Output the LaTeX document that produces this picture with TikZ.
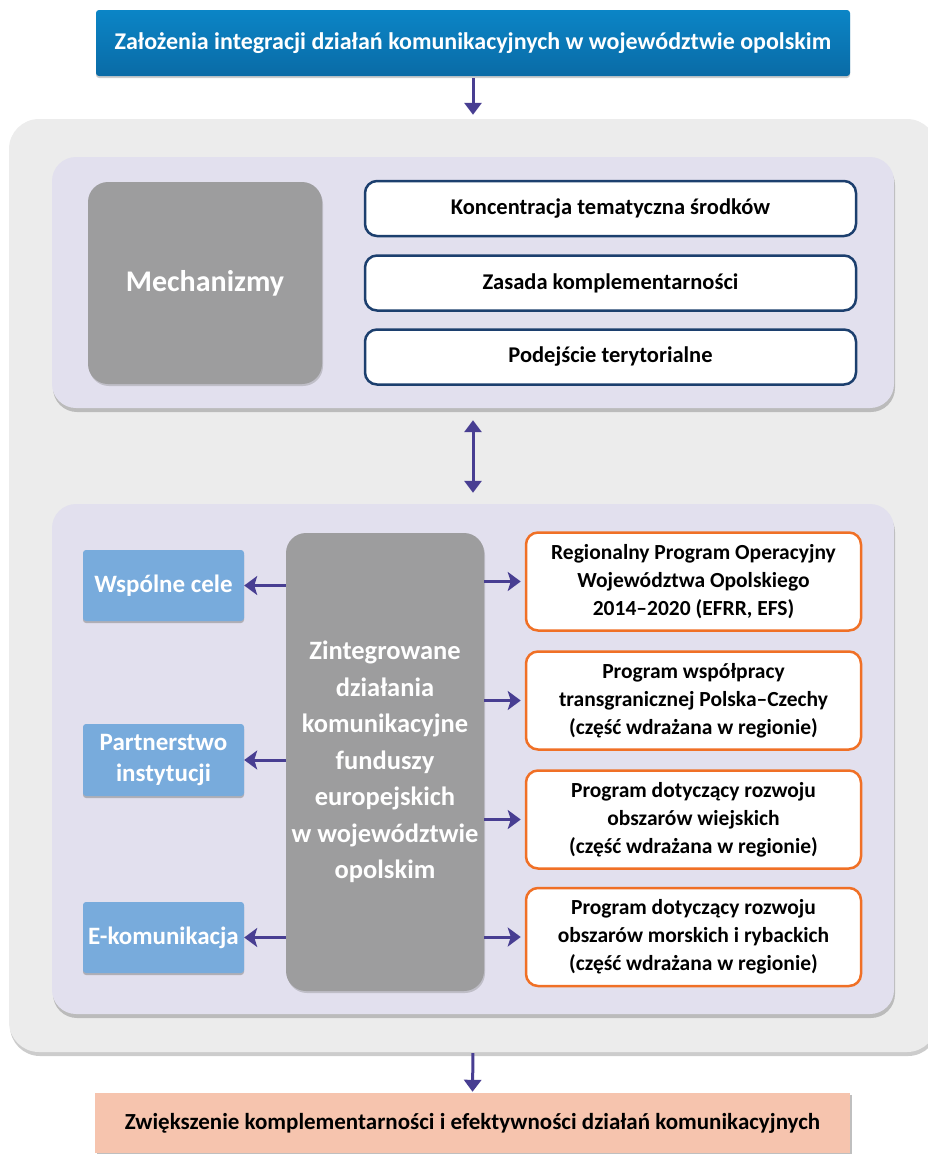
\documentclass[tikz,border=0pt]{standalone}
\usepackage{fontspec}
\setmainfont{Carlito}
\usetikzlibrary{arrows.meta,shadows}
\definecolor{niebieski}{HTML}{0B85C6}
\definecolor{ciemnyniebieski}{HTML}{0A6BA6}
\definecolor{jasnoniebieski}{HTML}{78ABDC}
\definecolor{szary}{HTML}{9D9D9E}
\definecolor{tlo}{HTML}{ECECEC}
\definecolor{lawenda}{HTML}{E2E0EE}
\definecolor{granat}{HTML}{1C3F6E}
\definecolor{pomarancz}{HTML}{F07026}
\definecolor{strzalka}{HTML}{483E92}
\definecolor{losos}{HTML}{F6C4AE}

\begin{document}
\begin{tikzpicture}[x=1pt, y=-1pt,
    font=\bfseries,
    panel/.style={rounded corners=24pt, fill=lawenda, drop shadow={shadow xshift=1pt, shadow yshift=-4pt, opacity=.45}},
    szare/.style={rounded corners=20pt, fill=szary, text=white, align=center, drop shadow={shadow xshift=1pt, shadow yshift=-2pt, opacity=.35}},
    biale/.style={rounded corners=12pt, fill=white, draw=granat, line width=2.5pt, minimum width=491pt, minimum height=55pt, font=\bfseries\fontsize{22.5}{26}\selectfont},
    pomar/.style={rounded corners=12pt, fill=white, draw=pomarancz, line width=2.5pt, minimum width=335pt, minimum height=98pt, align=center, font=\bfseries\fontsize{21.5}{28}\selectfont},
    cele/.style={rounded corners=3pt, fill=jasnoniebieski, text=white, minimum width=161pt, align=center, font=\bfseries\fontsize{25}{31}\selectfont, drop shadow={shadow xshift=0pt, shadow yshift=-2pt, opacity=.5}},
    arr/.style={draw=strzalka, line width=3pt, -{Triangle[length=12pt, width=17pt]}},
    arrh/.style={draw=strzalka, line width=3pt, -{Stealth[length=13pt, width=19pt, inset=3pt]}}
  ]
  \useasboundingbox (0,0) rectangle (927,1154);

  % tlo
  \node[rounded corners=30pt, fill=tlo, minimum width=928pt, minimum height=933pt,
        drop shadow={shadow xshift=1pt, shadow yshift=-4pt, opacity=.4}] (outer) at (473,585.5) {};

  % naglowek
  \node[top color=niebieski, bottom color=ciemnyniebieski, rounded corners=3pt, text=white,
        minimum width=754pt, minimum height=66pt, font=\bfseries\fontsize{24}{28}\selectfont,
        drop shadow={shadow xshift=0pt, shadow yshift=-2pt, opacity=.4}] (title) at (473,43)
        {Założenia integracji działań komunikacyjnych w województwie opolskim};

  % mechanizmy
  \node[panel, minimum width=842pt, minimum height=251pt] (upper) at (473,282.5) {};
  \node[szare, minimum width=234pt, minimum height=202pt, font=\bfseries\fontsize{30}{34}\selectfont] (mech) at (205,283) {Mechanizmy};
  \node[biale] (konc) at (610.5,208.5) {Koncentracja tematyczna środków};
  \node[biale] (kompl) at (610.5,283) {Zasada komplementarności};
  \node[biale] (teryt) at (610.5,357) {Podejście terytorialne};

  % dzialania
  \node[panel, minimum width=842pt, minimum height=510pt] (lower) at (473,759) {};
  \node[szare, minimum width=198pt, minimum height=458pt, font=\bfseries\fontsize{26.5}{36.5}\selectfont] (zint) at (385,762)
       {Zintegrowane\\działania\\komunikacyjne\\funduszy\\europejskich\\w województwie\\opolskim};

  \node[cele, minimum height=71pt] (wsp) at (163.5,585.5) {Wspólne cele};
  \node[cele, minimum height=72pt] (partn) at (163.5,760) {Partnerstwo\\instytucji};
  \node[cele, minimum height=71pt] (ekom) at (163.5,937.5) {E-komunikacja};

  \node[pomar] (rpo) at (693.5,581.5) {Regionalny Program Operacyjny\\Województwa Opolskiego\\2014–2020 (EFRR, EFS)};
  \node[pomar] (pwt) at (693.5,700.5) {Program współpracy\\transgranicznej Polska–Czechy\\(część wdrażana w regionie)};
  \node[pomar] (prow) at (693.5,819.5) {Program dotyczący rozwoju\\obszarów wiejskich\\(część wdrażana w regionie)};
  \node[pomar] (pmr) at (693.5,937) {Program dotyczący rozwoju\\obszarów morskich i rybackich\\(część wdrażana w regionie)};

  % wynik
  \node[fill=losos, minimum width=755pt, minimum height=60pt, font=\bfseries\fontsize{23}{26}\selectfont,
        drop shadow={shadow xshift=2pt, shadow yshift=-2pt, opacity=.5}] (wynik) at (472.5,1123)
        {Zwiększenie komplementarności i efektywności działań komunikacyjnych};

  % strzalki
  \draw[arr, shorten <=2pt, shorten >=4pt] (title.south) -- (outer.north);
  \draw[draw=strzalka, line width=3pt, {Triangle[length=12pt, width=17pt]}-{Triangle[length=12pt, width=17pt]},
        shorten <=12pt, shorten >=11pt] (upper.south) -- (lower.north);
  \draw[arr, shorten <=1pt, shorten >=1pt] (outer.south) -- (wynik.north);

  \draw[arrh] (zint.west |- wsp.east) -- (wsp.east);
  \draw[arrh] (zint.west |- partn.east) -- (partn.east);
  \draw[arrh] (zint.west |- ekom.east) -- (ekom.east);
  \draw[arrh, shorten >=4pt] (zint.east |- rpo.west) -- (rpo.west);
  \draw[arrh, shorten >=4pt] (zint.east |- pwt.west) -- (pwt.west);
  \draw[arrh, shorten >=4pt] (zint.east |- prow.west) -- (prow.west);
  \draw[arrh, shorten >=4pt] (zint.east |- pmr.west) -- (pmr.west);
\end{tikzpicture}
\end{document}
